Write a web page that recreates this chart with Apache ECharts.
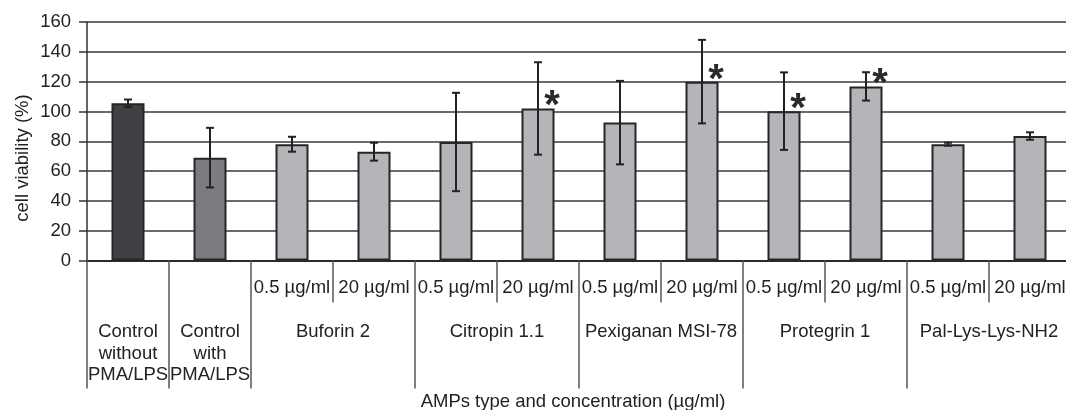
<!DOCTYPE html>
<html><head><meta charset="utf-8">
<script src="https://cdn.jsdelivr.net/npm/echarts@6/dist/echarts.min.js"></script>
<style>html,body{margin:0;padding:0;background:#fff}#c{width:1066px;height:410px}</style>
</head><body><div id="c"></div>
<script>
// ---- data ----
const concentrations = ['', '', '0.5 µg/ml', '20 µg/ml', '0.5 µg/ml', '20 µg/ml', '0.5 µg/ml', '20 µg/ml', '0.5 µg/ml', '20 µg/ml', '0.5 µg/ml', '20 µg/ml'];
const groupNames = ['Control\nwithout\nPMA/LPS', 'Control\nwith\nPMA/LPS', 'Buforin 2', 'Citropin 1.1', 'Pexiganan MSI-78', 'Protegrin 1', 'Pal-Lys-Lys-NH2'];
const groupSpans = [1, 1, 2, 2, 2, 2, 2];
const viability = [105.5, 69, 78, 73, 79.5, 102, 92.5, 120, 100.2, 116.8, 78, 83.5];
const errors = [2.5, 20, 5, 6, 33, 31, 28, 28, 26, 9.5, 1, 2.5];
const significant = [false, false, false, false, false, true, false, true, true, true, false, false];
const yTicks = [0, 20, 40, 60, 80, 100, 120, 140, 160];
const yTitle = 'cell viability (%)';
const xTitle = 'AMPs type and concentration (µg/ml)';

// ---- derived structure ----
const boundaries = [0];
groupSpans.forEach(s => boundaries.push(boundaries[boundaries.length - 1] + s));
const groupCenterLabel = {};
groupNames.forEach((n, g) => { groupCenterLabel[((boundaries[g] + boundaries[g + 1]) / 2).toFixed(1)] = n; });
const groupOfIndex = [];
groupSpans.forEach((s, g) => { for (let k = 0; k < s; k++) groupOfIndex.push(g); });
const boundarySet = new Set(boundaries);

const FONT = 'Liberation Sans, Arial, sans-serif';
const TXT = '#222';
const shade = g => g === 0 ? '#3f4043' : (g === 1 ? '#7b7c7f' : '#b4b5b8');

const chart = echarts.init(document.getElementById('c'), null, {renderer: 'canvas'});
chart.setOption({
  animation: false,
  backgroundColor: '#fff',
  textStyle: {fontFamily: FONT},
  grid: {left: 87, width: 984, top: 22, bottom: 149.5, containLabel: false, outerBoundsMode: 'none'},
  yAxis: {
    type: 'value', min: yTicks[0], max: yTicks[yTicks.length - 1], interval: yTicks[1] - yTicks[0],
    axisLine: {show: true, lineStyle: {color: '#333', width: 1.5}},
    axisTick: {show: true, length: 8, lineStyle: {color: '#333', width: 1.5}},
    axisLabel: {fontSize: 18.5, color: TXT, margin: 16, fontFamily: FONT},
    splitLine: {show: true, lineStyle: {color: '#3a3a3a', width: 1.5}}
  },
  xAxis: [
    {
      type: 'category', data: concentrations, position: 'bottom',
      axisLine: {show: true, lineStyle: {color: '#2a2a2a', width: 2}},
      axisTick: {show: true, length: 42, interval: 0, lineStyle: {color: '#555', width: 1.5}},
      axisLabel: {interval: 0, fontSize: 18.5, color: TXT, margin: 17.5, lineHeight: 20, fontFamily: FONT}
    },
    {
      type: 'category', data: concentrations, position: 'bottom',
      axisLine: {show: false},
      axisTick: {show: true, length: 128, interval: (i) => boundarySet.has(i), lineStyle: {color: '#555', width: 1.5}},
      axisLabel: {show: false}
    },
    {
      type: 'value', min: 0, max: concentrations.length, interval: 0.5, position: 'bottom',
      axisLine: {show: false}, axisTick: {show: false}, splitLine: {show: false},
      axisLabel: {
        show: true, showMinLabel: true, showMaxLabel: true, fontSize: 18.5, color: TXT, margin: 61, lineHeight: 21.5,
        fontFamily: FONT, align: 'center',
        formatter: v => groupCenterLabel[Number(v).toFixed(1)] || ''
      }
    }
  ],
  series: [
    {
      type: 'bar', xAxisIndex: 0, yAxisIndex: 0, barWidth: 33,
      data: viability.map((v, i) => ({value: v, itemStyle: {color: shade(groupOfIndex[i])}})),
      itemStyle: {borderColor: '#262626', borderWidth: 2},
      z: 2
    },
    {
      type: 'custom', xAxisIndex: 0, yAxisIndex: 0, z: 10,
      data: viability.map((v, i) => [i, v - errors[i], v + errors[i]]),
      renderItem: (params, api) => {
        const x = api.value(0);
        const lo = api.coord([x, api.value(1)]);
        const hi = api.coord([x, api.value(2)]);
        const c = 4;
        const st = {stroke: '#222', lineWidth: 2};
        return {type: 'group', children: [
          {type: 'line', shape: {x1: lo[0], y1: lo[1], x2: hi[0], y2: hi[1]}, style: st},
          {type: 'line', shape: {x1: lo[0] - c, y1: lo[1], x2: lo[0] + c, y2: lo[1]}, style: st},
          {type: 'line', shape: {x1: hi[0] - c, y1: hi[1], x2: hi[0] + c, y2: hi[1]}, style: st}
        ]};
      }
    },
    {
      type: 'custom', xAxisIndex: 0, yAxisIndex: 0, z: 11,
      data: viability.map((v, i) => [i, v]).filter((d, i) => significant[i]),
      renderItem: (params, api) => {
        const p = api.coord([api.value(0), api.value(1)]);
        return {type: 'text', x: p[0] + 14, y: p[1] - 1,
          style: {text: '*', fontSize: 40, fontWeight: 'bold', fontFamily: FONT, fill: '#2a2a2a', align: 'center', verticalAlign: 'middle'}};
      }
    }
  ],
  graphic: [
    {type: 'text', x: 23, y: 158, rotation: Math.PI / 2,
      style: {text: yTitle, fontSize: 18.5, fontFamily: FONT, fill: TXT, align: 'center', verticalAlign: 'middle'}},
    {type: 'text', x: 573, y: 402,
      style: {text: xTitle, fontSize: 18.5, fontFamily: FONT, fill: TXT, align: 'center', verticalAlign: 'middle'}}
  ]
});
</script>
</body></html>
